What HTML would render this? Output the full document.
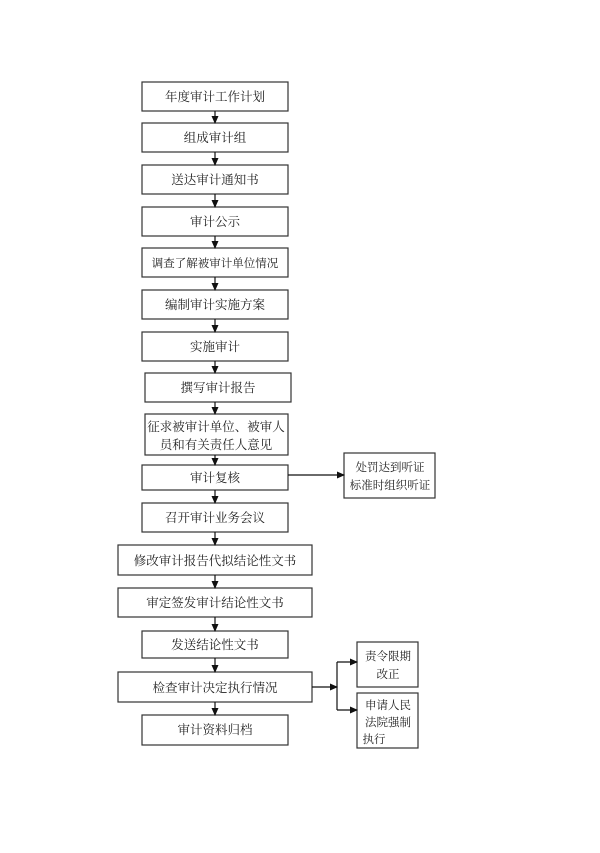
<!DOCTYPE html>
<html><head><meta charset="utf-8"><style>
html,body{margin:0;padding:0;background:#fff;}
svg text{font-family:"Liberation Serif","Noto Serif CJK SC",serif;font-size:12.5px;fill:#222;text-anchor:middle;}
</style></head><body>
<svg width="600" height="848" viewBox="0 0 600 848" xmlns="http://www.w3.org/2000/svg">
<defs><marker id="a" markerWidth="8" markerHeight="8" refX="7" refY="4" orient="auto" markerUnits="userSpaceOnUse"><path d="M0,0.5 L8,4 L0,7.5z" fill="#111"/></marker></defs>
<g fill="#fff" stroke="#333" stroke-width="1.2">
<rect x="142" y="82" width="146" height="29"/>
<rect x="142" y="123" width="146" height="29"/>
<rect x="142" y="165" width="146" height="29"/>
<rect x="142" y="207" width="146" height="29"/>
<rect x="142" y="248" width="146" height="29"/>
<rect x="142" y="290" width="146" height="29"/>
<rect x="142" y="332" width="146" height="29"/>
<rect x="145" y="373" width="146" height="29"/>
<rect x="145" y="414" width="143" height="41"/>
<rect x="142" y="465" width="146" height="25"/>
<rect x="344" y="453" width="91" height="45"/>
<rect x="142" y="503" width="146" height="29"/>
<rect x="118" y="545" width="194" height="30"/>
<rect x="118" y="588" width="194" height="29"/>
<rect x="142" y="631" width="146" height="27"/>
<rect x="118" y="672" width="194" height="30"/>
<rect x="142" y="715" width="146" height="30"/>
<rect x="357" y="642" width="61" height="45"/>
<rect x="357" y="693" width="61" height="55"/>
</g>
<g stroke="#111" stroke-width="1.2" fill="none" marker-end="url(#a)">
<line x1="215" y1="111" x2="215" y2="123"/>
<line x1="215" y1="152" x2="215" y2="165"/>
<line x1="215" y1="194" x2="215" y2="207"/>
<line x1="215" y1="236" x2="215" y2="248"/>
<line x1="215" y1="277" x2="215" y2="290"/>
<line x1="215" y1="319" x2="215" y2="332"/>
<line x1="215" y1="361" x2="215" y2="373"/>
<line x1="215" y1="402" x2="215" y2="414"/>
<line x1="215" y1="455" x2="215" y2="465"/>
<line x1="215" y1="490" x2="215" y2="503"/>
<line x1="215" y1="532" x2="215" y2="545"/>
<line x1="215" y1="575" x2="215" y2="588"/>
<line x1="215" y1="617" x2="215" y2="631"/>
<line x1="215" y1="658" x2="215" y2="672"/>
<line x1="215" y1="702" x2="215" y2="715"/>
<line x1="288" y1="475" x2="344" y2="475"/>
<line x1="312" y1="687" x2="337" y2="687"/>
<polyline points="337,662 357,662"/>
<polyline points="337,710 357,710"/>
</g>
<line x1="337" y1="662" x2="337" y2="710" stroke="#111" stroke-width="1.2"/>
<text x="215" y="101">年度审计工作计划</text>
<text x="215" y="142">组成审计组</text>
<text x="215" y="184">送达审计通知书</text>
<text x="215" y="226">审计公示</text>
<text x="215" y="267" style="font-size:11.5px">调查了解被审计单位情况</text>
<text x="215" y="309">编制审计实施方案</text>
<text x="215" y="351">实施审计</text>
<text x="218" y="392">撰写审计报告</text>
<text x="216" y="431">征求被审计单位、被审人</text>
<text x="216" y="449">员和有关责任人意见</text>
<text x="215" y="482">审计复核</text>
<text x="390" y="471" style="font-size:11.5px">处罚达到听证</text>
<text x="390" y="489" style="font-size:11.5px">标准时组织听证</text>
<text x="215" y="522">召开审计业务会议</text>
<text x="215" y="565">修改审计报告代拟结论性文书</text>
<text x="215" y="607">审定签发审计结论性文书</text>
<text x="215" y="649">发送结论性文书</text>
<text x="215" y="692">检查审计决定执行情况</text>
<text x="215" y="734">审计资料归档</text>
<text x="388" y="660" style="font-size:11.5px">责令限期</text>
<text x="388" y="678" style="font-size:11.5px">改正</text>
<text x="388" y="709" style="font-size:11.5px">申请人民</text>
<text x="388" y="726" style="font-size:11.5px">法院强制</text>
<text x="374" y="743" style="font-size:11.5px">执行</text>
</svg>
</body></html>
